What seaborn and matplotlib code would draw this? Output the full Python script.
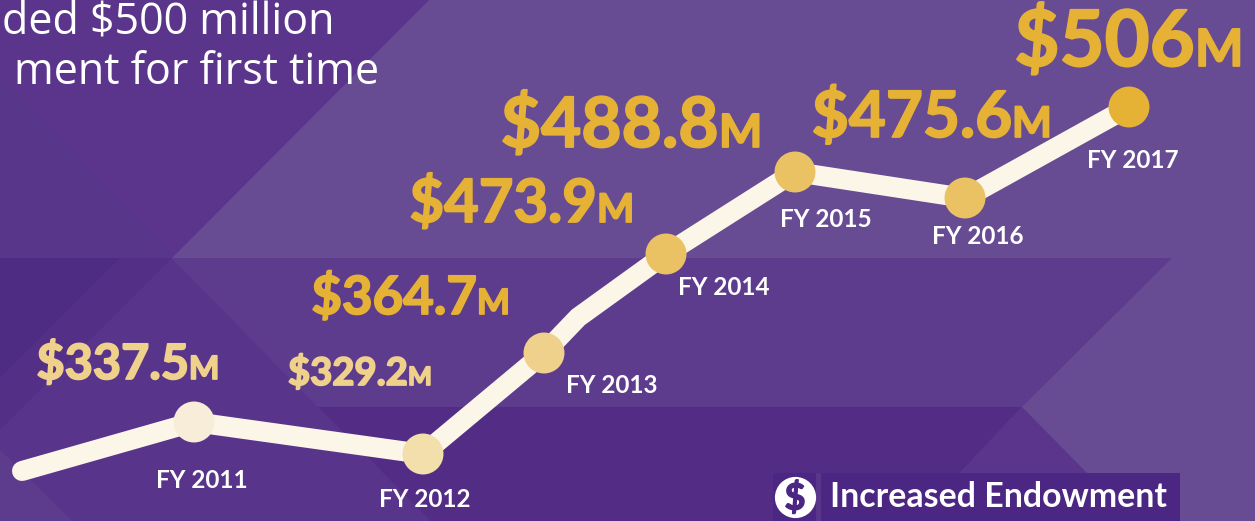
import numpy as np
import pandas as pd
import matplotlib
matplotlib.use('Agg')
import matplotlib.pyplot as plt
import matplotlib.patheffects as pe
from matplotlib.patches import Polygon
from matplotlib.transforms import Affine2D
import seaborn as sns

# Valores do grafico
fiscal_years = [2011, 2012, 2013, 2014, 2015, 2016, 2017]
endowment = [337.5, 329.2, 364.7, 473.9, 488.8, 475.6, 506.0]
value_labels = ['$337.5', '$329.2', '$364.7', '$473.9', '$488.8', '$475.6', '$506']
year_labels = ['FY 2011', 'FY 2012', 'FY 2013', 'FY 2014', 'FY 2015', 'FY 2016', 'FY 2017']
# a linha comeca antes de 2011 e tem uma dobra depois de 2013
line_years = [2010, 2011, 2012, 2013, 2013.28, 2014, 2015, 2016, 2017]
line_values = [322, 337.5, 329.2, 364.7, 404, 473.9, 488.8, 475.6, 506.0]

# Estilo de cada ponto
dot_colors = ['#F8EDD8', '#F3DFAC', '#EFD18C', '#EAC163', '#EAC163', '#EAC163', '#E5B236']
label_colors = ['#EFD18C', '#EFD18C', '#E5B236', '#E5B236', '#E5B236', '#E5B236', '#E5B236']
label_sizes = [35, 27.5, 38, 43, 50, 46, 56]
value_offsets = [(-5, 43), (-15, 69), (-67, 39), (-69, 32), (-76, 25), (47, 61), (66, 41)]
year_offsets = [(8, -66), (2, -53), (68, -40), (58, -41), (31, -55), (13, -46), (4, -61)]

W, H = 1255, 521
sns.set_style('white')
plt.rcParams['font.family'] = ['Lato', 'DejaVu Sans']

fig = plt.figure(figsize=(W / 100, H / 100), dpi=100)
ax = fig.add_axes([0, 0, 1, 1])

# Escalas por trechos: o desenho original nao e linear
x_years = [2009.885, 2010, 2011, 2012, 2013, 2014, 2015, 2016, 2017, 2017.77]
x_px = [0, 22, 194, 423, 544, 666, 795, 965, 1129, 1255]
y_vals = [300, 322, 329.2, 337.5, 364.7, 473.9, 475.6, 488.8, 506, 540]
y_px = [-521, -471, -454, -422, -353, -254, -198, -172, -107, 0]
ax.set_xscale('function', functions=(lambda v: np.interp(v, x_years, x_px),
                                     lambda v: np.interp(v, x_px, x_years)))
ax.set_yscale('function', functions=(lambda v: np.interp(v, y_vals, y_px),
                                     lambda v: np.interp(v, y_px, y_vals)))

# Fundo com os triangulos
px = Affine2D().scale(1 / W, -1 / H).translate(0, 1) + fig.transFigure
shapes = [
    ([(0, 0), (W, 0), (W, H), (0, H)], '#674B93'),
    ([(0, 0), (429, 0), (172, 258), (0, 258)], '#5A358B'),
    ([(0, 75), (172, 258), (0, 258)], '#58378A'),
    ([(172, 258), (1172, 258), (1022, 407), (318, 407)], '#5E3C8D'),
    ([(0, 258), (172, 258), (318, 407), (430, H), (0, H)], '#58358A'),
    ([(0, 258), (172, 258), (0, 430)], '#532F86'),
    ([(0, 258), (120, 258), (0, 378)], '#4F2C84'),
    ([(318, 407), (1022, 407), (960, 473), (960, H), (430, H)], '#532D85'),
    ([(1022, 407), (1087, 473), (960, 473)], '#5A358B'),
    ([(0, 450), (72, H), (0, H)], '#5E3C8D'),
    ([(773, 473), (1180, 473), (1180, H), (773, H)], '#4B2682'),
    ([(816, 473), (821, 473), (821, H), (816, H)], '#5A358B'),
]
for pts, color in shapes:
    ax.add_patch(Polygon(pts, closed=True, facecolor=color, edgecolor='none',
                         transform=px, zorder=0))

line_df = pd.DataFrame({'ano': line_years, 'valor': line_values})
sns.lineplot(data=line_df, x='ano', y='valor', ax=ax, color='#FCF6E9', linewidth=14.4,
             estimator=None, sort=False, solid_capstyle='round', solid_joinstyle='round', zorder=2)

df = pd.DataFrame({'ano': fiscal_years, 'valor': endowment, 'rotulo': year_labels})
sns.scatterplot(data=df, x='ano', y='valor', hue='rotulo', palette=dot_colors, s=870,
                linewidth=0, legend=False, ax=ax, zorder=3)

ax.set_xlim(x_years[0], x_years[-1])
ax.set_ylim(y_vals[0], y_vals[-1])
ax.axis('off')

for i, yr in enumerate(fiscal_years):
    xy = (yr, endowment[i])
    # o traco engrossa a fonte, o Lato fica fino demais
    thick = [pe.withStroke(linewidth=1.3, foreground=label_colors[i])]
    ax.annotate(value_labels[i], xy, xytext=value_offsets[i], textcoords='offset pixels',
                ha='right', va='baseline', fontsize=label_sizes[i], fontweight='bold',
                color=label_colors[i], zorder=4, path_effects=thick)
    ax.annotate('M', xy, xytext=value_offsets[i], textcoords='offset pixels',
                ha='left', va='baseline', fontsize=label_sizes[i] * 0.66, fontweight='bold',
                color=label_colors[i], zorder=4, path_effects=thick)
    ax.annotate(year_labels[i], xy, xytext=year_offsets[i], textcoords='offset pixels',
                ha='center', va='baseline', fontsize=17.5, fontweight='bold', color='white', zorder=4)

# Titulo cortado no original
ax.text(334 / W, 1 - 33 / H, 'ded $500 million', transform=ax.transAxes, ha='right',
        va='baseline', fontsize=31, color='white', family='Open Sans')
ax.text(379 / W, 1 - 84 / H, 'ment for first time', transform=ax.transAxes, ha='right',
        va='baseline', fontsize=31, color='white', family='Open Sans')

# Rodape com o icone
ax.scatter([795 / W], [1 - 497 / H], s=880, color='white', linewidth=0,
           transform=ax.transAxes, zorder=4)
ax.text(795 / W, 1 - 498 / H, '$', transform=ax.transAxes, ha='center', va='center',
        fontsize=26, fontweight='bold', color='#4B2682', zorder=5,
        path_effects=[pe.withStroke(linewidth=1, foreground='#4B2682')])
ax.text(830 / W, 1 - 507 / H, 'Increased Endowment', transform=ax.transAxes, ha='left',
        va='baseline', fontsize=24.4, fontweight='bold', color='white', zorder=5)

fig.savefig('out.png', dpi=100)
